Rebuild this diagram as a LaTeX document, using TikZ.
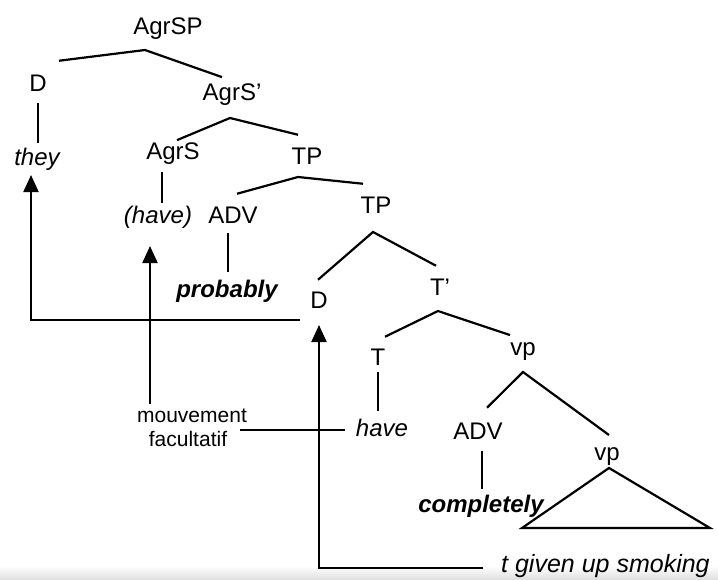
\documentclass[tikz,border=0pt]{standalone}
\usepackage{fontspec}
\setmainfont{Liberation Sans}
\usetikzlibrary{arrows.meta}
\newcommand\lblfont{\fontsize{24}{28}\selectfont}
\newcommand\tgfont{\fontsize{25}{29}\selectfont}
\newcommand\smallfont{\fontsize{21}{24}\selectfont}
\newcommand\prm{{\char"0027}}
\begin{document}
\begin{tikzpicture}[x=1pt,y=-1pt,
  lbl/.style={anchor=base, inner sep=0pt, font=\lblfont},
  itl/.style={lbl, font=\lblfont\itshape},
  bit/.style={lbl, font=\lblfont\bfseries\itshape},
  br/.style={line width=2.2pt},
  arr/.style={line width=2.2pt, -{Triangle[width=15pt,length=17pt]}}]
\useasboundingbox (0,0) rectangle (718,579);
\shade[top color=white, bottom color=black!12] (0,566) rectangle (718,579);
% labels
\node[lbl] (agrsp) at (168,34) {AgrSP};
\node[lbl] (d1) at (38,91) {D};
\node[lbl] (agrsb) at (232,100) {AgrS\prm};
\node[itl] (they) at (37,165) {they};
\node[lbl] (agrs) at (173,159) {AgrS};
\node[lbl] (tp1) at (307,164) {TP};
\node[itl] (have1) at (158,223) {(have)};
\node[lbl] (adv1) at (233,223) {ADV};
\node[lbl] (tp2) at (376,213) {TP};
\node[bit] (prob) at (227,297) {probably};
\node[lbl] (d2) at (319,308) {D};
\node[lbl] (tb) at (440,295) {T\prm};
\node[lbl] (t) at (378,365) {T};
\node[lbl] (vp1) at (523,355) {vp};
\node[itl] (have2) at (382,436) {have};
\node[lbl] (adv2) at (478,439) {ADV};
\node[lbl] (vp2) at (607,460) {vp};
\node[bit] (compl) at (481,512) {completely};
\node[lbl, font=\tgfont\itshape, anchor=base west] (tgiven) at (501,572) {t given up smoking};
\node[anchor=base, inner sep=0pt, font=\smallfont] (mouv) at (192,422) {mouvement};
\node[anchor=base, inner sep=0pt, font=\smallfont] (facul) at (188,446) {facultatif};
% apex coordinates
\coordinate (a1) at (145,50);
\coordinate (a2) at (230,118);
\coordinate (a3) at (298,177);
\coordinate (a4) at (373,232);
\coordinate (a5) at (438,311);
\coordinate (a6) at (523,372);
\coordinate (a7) at (609,468);
% branches
\draw[br] ([shift={(21,-22)}]d1.center) -- (a1) -- ([shift={(-10,-17)}]agrsb.center);
\draw[br] ([shift={(4,-13)}]agrs.center) -- (a2) -- ([shift={(-9,-21)}]tp1.center);
\draw[br] ([shift={(4,-21)}]adv1.center) -- (a3) -- ([shift={(-13,-21)}]tp2.center);
\draw[br] ([shift={(-1,-20)}]d2.center) -- (a4) -- ([shift={(-4,-21)}]tb.center);
\draw[br] ([shift={(7,-20)}]t.center) -- (a5) -- ([shift={(-13,-16)}]vp1.center);
\draw[br] ([shift={(9,-23)}]adv2.center) -- (a6) -- ([shift={(2,-21)}]vp2.center);
\draw[br] (a7) -- (522,528) -- (710,528) -- cycle;
\draw[br] (d1.center |- 0,103) -- (d1.center |- 0,143);
\draw[br] (162,172) -- (162,203);
\draw[br] (228,233) -- (228,272);
\draw[br] (t.center |- 0,372) -- (t.center |- 0,411);
\draw[br] (482,451) -- (482,489);
% movement arrows
\coordinate (c1) at (300,320);
\coordinate (c2) at (483,568);
\draw[arr] (c1) -- (31,320) -- (31,175);
\draw[arr] (150,404) -- (150,246);
\draw[br] (240,430) -- (345,430);
\draw[arr] (c2) -- (319,568) -- (319,325);
\end{tikzpicture}
\end{document}
